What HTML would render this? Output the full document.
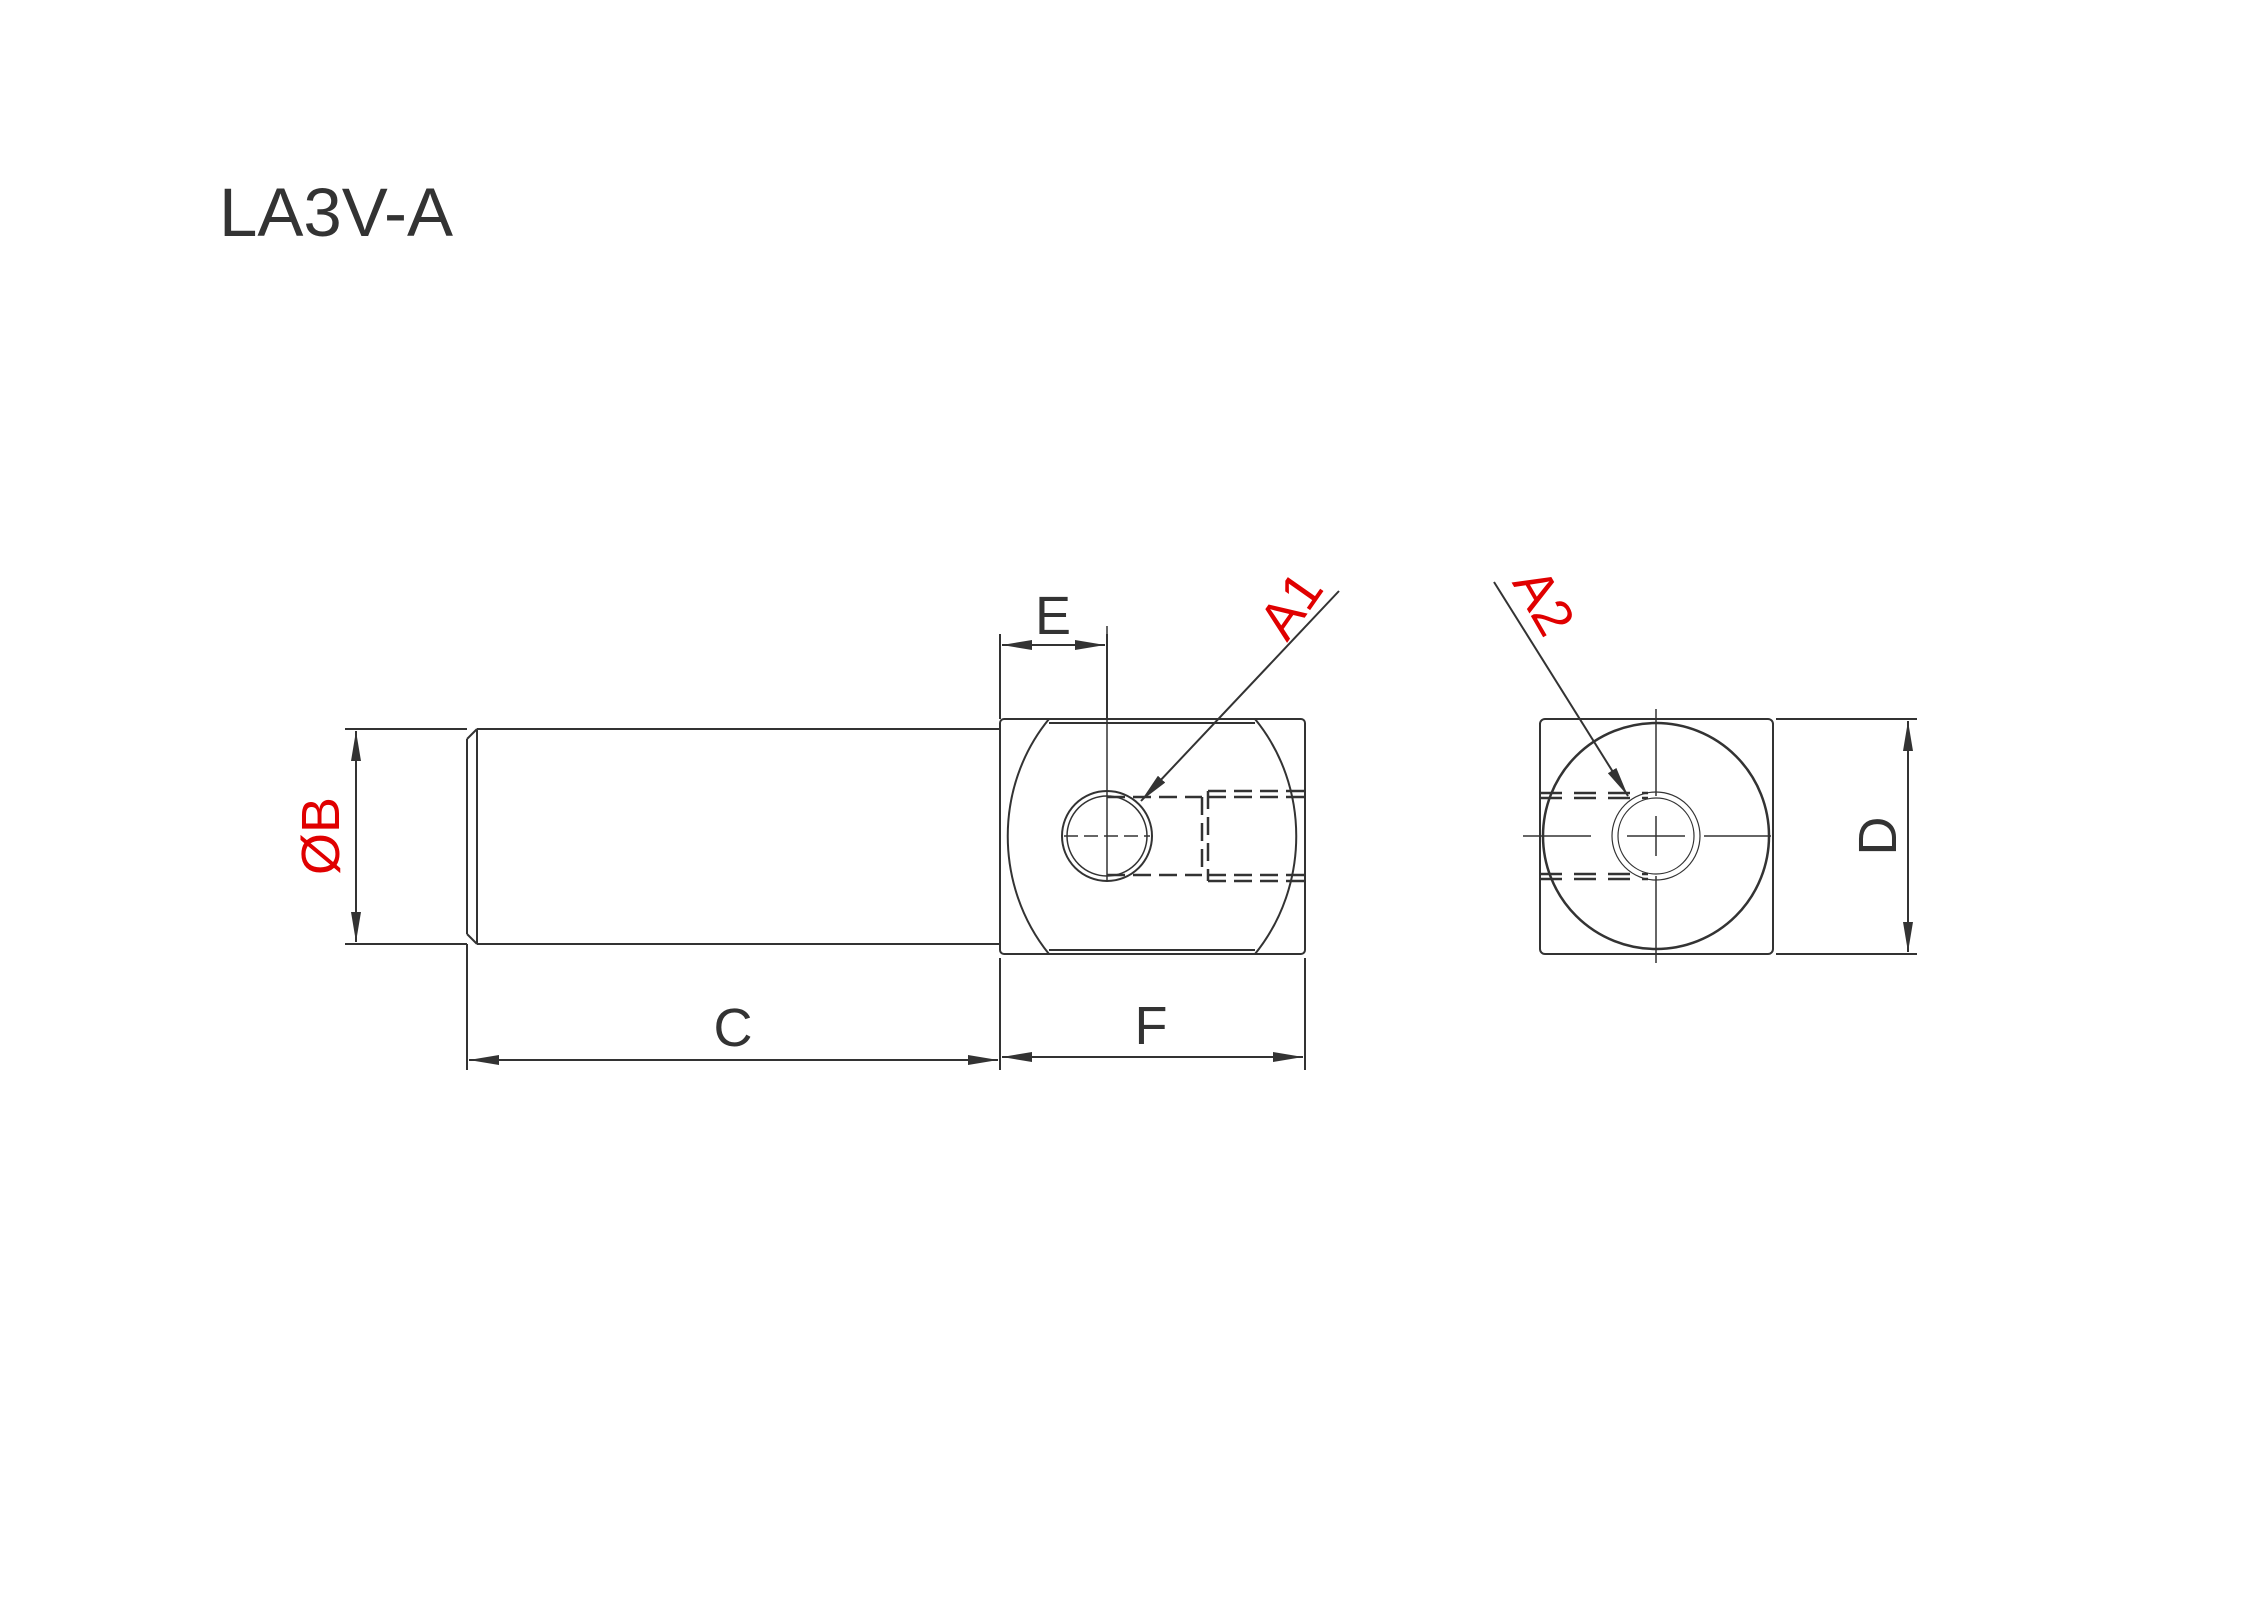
<!DOCTYPE html>
<html><head><meta charset="utf-8"><style>body{margin:0;background:#fff}svg{display:block}</style></head>
<body>
<svg width="2264" height="1600" viewBox="0 0 2264 1600" xmlns="http://www.w3.org/2000/svg" font-family="Liberation Sans, sans-serif">
<defs>
<marker id="ar" viewBox="0 0 30 10" refX="30" refY="5" markerWidth="30" markerHeight="10" markerUnits="userSpaceOnUse" orient="auto-start-reverse"><path d="M0,0 L30,5 L0,10 Z" fill="#333"/></marker>
</defs>
<text x="219" y="236" font-size="69" fill="#333">LA3V-A</text>
<g transform="translate(-6,-4)">
<g stroke="#333" stroke-width="2" fill="none">
<path d="M483,733 L1006,733 M483,948 L1006,948 M473,743 L483,733 M473,938 L483,948 M473,743 L473,938 M483,733 L483,948"/>
<path d="M351,733 L473,733 M351,948 L473,948"/>
<line x1="362" y1="735" x2="362" y2="946" marker-start="url(#ar)" marker-end="url(#ar)"/>
<rect x="1006" y="723" width="305" height="235" rx="4"/>
<path d="M1055,727 L1261,727 M1055,954 L1261,954"/>
<path d="M1055,723 C1000,790 1000,890 1055,958"/>
<path d="M1261,723 C1316,790 1316,890 1261,958"/>
<circle cx="1113" cy="840" r="45"/>
<circle cx="1113" cy="840" r="40" stroke-width="1.5"/>
<path d="M1113,630 L1113,885" stroke-width="1.5"/>
<path d="M1070,840 L1156,840" stroke-dasharray="14,6" stroke-width="1.5"/>
<g stroke-dasharray="18,8" stroke-width="2.5">
<path d="M1113,801 L1208,801 M1113,879 L1208,879 M1214,795 L1311,795 M1214,885 L1311,885 M1214,801 L1311,801 M1214,879 L1311,879 M1208,801 L1208,879 M1214,795 L1214,885"/>
</g>
<path d="M1006,638 L1006,723 M1113,638 L1113,723"/>
<line x1="1008" y1="649" x2="1111" y2="649" marker-start="url(#ar)" marker-end="url(#ar)"/>
<line x1="1345" y1="595" x2="1147" y2="805" marker-end="url(#ar)"/>
<path d="M473,948 L473,1074 M1006,962 L1006,1074 M1311,962 L1311,1074"/>
<line x1="475" y1="1064" x2="1004" y2="1064" marker-start="url(#ar)" marker-end="url(#ar)"/>
<line x1="1008" y1="1061" x2="1309" y2="1061" marker-start="url(#ar)" marker-end="url(#ar)"/>
<g transform="translate(-3,0)">
<rect x="1549" y="723" width="233" height="235" rx="5"/>
<circle cx="1665" cy="840" r="113" stroke-width="2.5"/>
<circle cx="1665" cy="840" r="44" stroke-width="1.2"/>
<circle cx="1665" cy="840" r="38" stroke-width="1.2"/>
<path d="M1665,713 L1665,800 M1665,880 L1665,967 M1532,840 L1600,840 M1636,840 L1694,840 M1713,840 L1780,840 M1665,820 L1665,860" stroke-width="1.5"/>
<g stroke-dasharray="22,12" stroke-width="2.5">
<path d="M1549,797 L1657,797 M1549,802 L1657,802 M1549,878 L1657,878 M1549,883 L1657,883"/>
</g>
<path d="M1785,723 L1926,723 M1785,958 L1926,958"/>
<line x1="1917" y1="725" x2="1917" y2="956" marker-start="url(#ar)" marker-end="url(#ar)"/>
<line x1="1503" y1="586" x2="1637" y2="800" marker-end="url(#ar)"/>
</g>
</g>
<g font-size="54" fill="#333" text-anchor="middle">
<text x="1059" y="638">E</text>
<text x="739" y="1050">C</text>
<text x="1157" y="1048">F</text>
<text transform="translate(1902,840) rotate(-90)">D</text>
</g>
<g font-size="54" fill="#e00000" text-anchor="middle">
<text transform="translate(345,840) rotate(-90)">ØB</text>
<text transform="translate(1312,620) rotate(-55)">A1</text>
<text transform="translate(1534,615) rotate(60)">A2</text>
</g>
</g>
</svg>
</body></html>
